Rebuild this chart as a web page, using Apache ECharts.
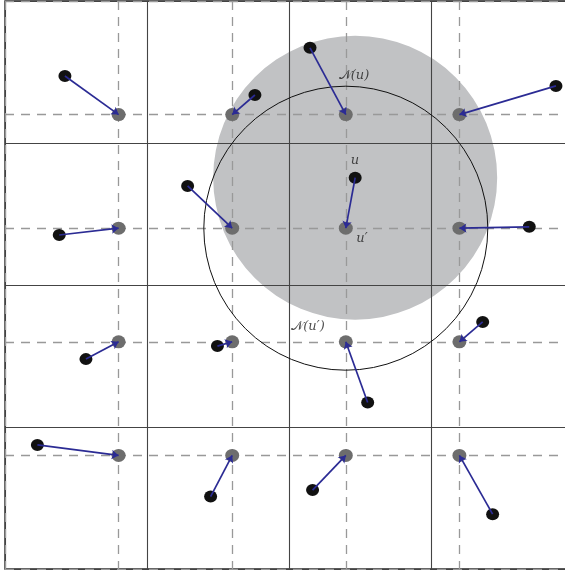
<!DOCTYPE html>
<html><head><meta charset="utf-8">
<script src="https://cdn.jsdelivr.net/npm/echarts@6/dist/echarts.min.js"></script>
<style>html,body{margin:0;padding:0;background:#fff}#c{width:565px;height:570px}</style>
</head><body><div id="c"></div>
<script>
// Grid (lattice) points, data units, y grows downward
const gridPoints = [
  [4,4],[8,4],[12,4],[16,4],
  [4,8],[8,8],[12,8],[16,8],
  [4,12],[8,12],[12,12],[16,12],
  [4,16],[8,16],[12,16],[16,16]
];
// Sample points (black), each linked to the lattice point of same index
const samplePoints = [
  [2.11,2.64],[8.80,3.31],[10.74,1.65],[19.40,2.99],
  [1.91,8.24],[6.43,6.51],[12.33,6.22],[18.46,7.95],
  [2.85,12.61],[7.48,12.15],[12.77,14.14],[16.82,11.30],
  [1.14,15.63],[7.24,17.45],[10.83,17.22],[17.17,18.07]
];
// Neighbourhoods: [centerX, centerY, radius]
const filledCircle = [[12.33,6.22,5]];
const outlineCircle = [[12,8,5]];
// Text labels: [x, y, text]
const labels = [
  [12.29,2.64,'{n|𝒩}{t|(u)}'],
  [12.32,5.63,'{t|u}'],
  [12.57,8.35,'{t|u′}'],
  [10.67,11.48,'{n|𝒩}{t|(u′)}']
];

const chart = echarts.init(document.getElementById('c'), null, {renderer:'canvas'});
const arrows = samplePoints.map((p,i)=>({coords:[p, gridPoints[i]]}));

function circleItem(fill, stroke){
  return function(params, api){
    const c = api.coord([api.value(0), api.value(1)]);
    const r = api.size([api.value(2), 0])[0];
    return {type:'circle', shape:{cx:c[0], cy:c[1], r:r},
      style:{fill:fill, stroke:stroke, lineWidth:1}};
  };
}

const axisBase = {type:'value', min:0, max:20, axisLabel:{show:false}, axisTick:{show:false}, axisLine:{show:false}};
chart.setOption({
  animation:false,
  grid:{left:5, top:1, width:568, height:568, outerBoundsMode:'none', containLabel:false,
    show:true, borderColor:'#222', borderWidth:1.4, backgroundColor:'transparent'},
  xAxis:[
    Object.assign({}, axisBase, {interval:5, splitLine:{show:true, lineStyle:{color:'#444', width:1.1}}}),
    Object.assign({}, axisBase, {interval:4, splitLine:{show:true, lineStyle:{color:'#999', width:1.3, type:[9,7]}}})
  ],
  yAxis:[
    Object.assign({}, axisBase, {inverse:true, interval:5, splitLine:{show:true, lineStyle:{color:'#444', width:1.1}}}),
    Object.assign({}, axisBase, {inverse:true, interval:4, splitLine:{show:true, lineStyle:{color:'#999', width:1.3, type:[9,7]}}})
  ],
  series:[
    {type:'custom', z:-1, silent:true, data:filledCircle, renderItem:circleItem('#c1c2c4', null)},
    {type:'custom', z:3, silent:true, data:outlineCircle, renderItem:circleItem('none', '#111')},
    {type:'scatter', z:4, data:gridPoints, symbolSize:[14,13], itemStyle:{color:'#6d6d6d', opacity:1}},
    {type:'scatter', z:5, data:samplePoints, symbolSize:[13,12], itemStyle:{color:'#111', opacity:1}},
    {type:'lines', z:6, coordinateSystem:'cartesian2d', data:arrows, symbol:['none','arrow'], symbolSize:7,
      lineStyle:{color:'#2b2b94', width:1.7, opacity:1}},
    {type:'scatter', z:7, symbolSize:0, data:labels.map(l=>({value:[l[0],l[1]], label:{formatter:l[2]}})),
      label:{show:true, position:'inside', color:'#222',
        rich:{
          n:{fontFamily:'DejaVu Sans', fontSize:13, color:'#222'},
          t:{fontFamily:'DejaVu Serif', fontStyle:'italic', fontSize:13, color:'#222'}
        }}}
  ]
});
</script></body></html>
